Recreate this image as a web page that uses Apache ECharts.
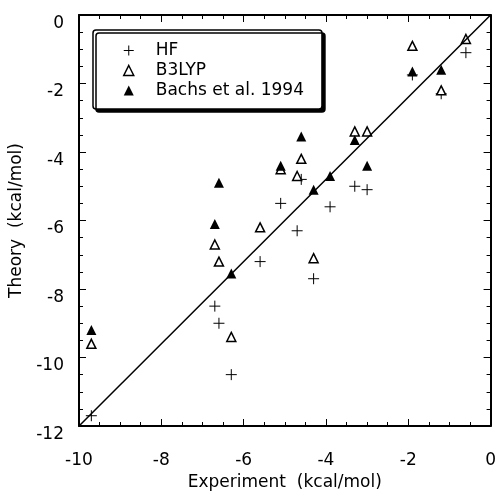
<!DOCTYPE html>
<html>
<head>
<meta charset="utf-8">
<script src="https://cdn.jsdelivr.net/npm/echarts@6/dist/echarts.min.js"></script>
<style>html,body{margin:0;padding:0;background:#fff}#c{width:499px;height:497px}</style>
</head>
<body>
<div id="c"></div>
<script>
// Experiment (x) vs theory (y), kcal/mol
const hfX = [-9.7, -6.7, -6.6, -6.3, -5.6, -5.1, -4.7, -4.6, -4.3, -3.9, -3.3, -3.0, -1.9, -1.2, -0.6];
const hfY = [-11.7, -8.5, -9.0, -10.5, -7.2, -5.5, -6.3, -4.8, -7.7, -5.6, -5.0, -5.1, -1.75, -2.3, -1.1];

const b3lypX = [-9.7, -6.7, -6.6, -6.3, -5.6, -5.1, -4.7, -4.6, -4.3, -3.3, -3.0, -1.9, -1.2, -0.6];
const b3lypY = [-9.6, -6.7, -7.2, -9.4, -6.2, -4.5, -4.7, -4.2, -7.1, -3.4, -3.4, -0.9, -2.2, -0.7];

const bachsX = [-9.7, -6.7, -6.6, -6.3, -5.1, -4.6, -4.3, -3.9, -3.3, -3.0, -1.9, -1.2];
const bachsY = [-9.2, -6.1, -4.9, -7.55, -4.4, -3.55, -5.1, -4.7, -3.65, -4.4, -1.65, -1.6];

const diagX = [-10, 0];
const diagY = [-12, 0];

const seriesNames = ['HF', 'B3LYP', 'Bachs et al. 1994'];
const xTitle = 'Experiment  (kcal/mol)';
const yTitle = 'Theory  (kcal/mol)';

const zip = (a, b) => a.map((v, i) => [v, b[i]]);
const FONT = 'DejaVu Sans';
const plusPath = 'path://M0,5L10,5M5,0L5,10';

function axisBase(extra) {
  return Object.assign({
    type: 'value',
    axisLine: { show: true, onZero: false, lineStyle: { color: '#000', width: 2 } },
    axisTick: { show: true, inside: true, length: 7, lineStyle: { color: '#000', width: 1 } },
    minorTick: { show: true, splitNumber: 4, length: 4, lineStyle: { color: '#000', width: 1 } },
    splitLine: { show: false },
    minorSplitLine: { show: false }
  }, extra);
}

const chart = echarts.init(document.getElementById('c'));
chart.setOption({
  animation: false,
  grid: { left: 79, right: 7, top: 15, bottom: 71 },
  xAxis: [
    axisBase({
      min: -10, max: 0, interval: 2, position: 'bottom',
      axisLabel: { color: '#000', fontFamily: FONT, fontSize: 17, margin: 26 },
      name: xTitle, nameLocation: 'middle', nameGap: 35,
      nameTextStyle: { color: '#000', fontFamily: FONT, fontSize: 17 }
    }),
    axisBase({
      min: -10, max: 0, interval: 2, position: 'top',
      axisLabel: { show: false }
    })
  ],
  yAxis: [
    axisBase({
      min: -12, max: 0, interval: 2, position: 'left',
      axisLabel: { color: '#000', fontFamily: FONT, fontSize: 17, margin: 15, verticalAlign: 'top' },
      name: yTitle, nameLocation: 'middle', nameGap: 53,
      nameTextStyle: { color: '#000', fontFamily: FONT, fontSize: 17 }
    }),
    axisBase({
      min: -12, max: 0, interval: 2, position: 'right',
      axisLabel: { show: false }
    })
  ],
  legend: {
    data: [
      { name: seriesNames[0], itemStyle: { borderWidth: 1 } },
      { name: seriesNames[1], itemStyle: { borderWidth: 1.5 } },
      { name: seriesNames[2] }
    ],
    orient: 'vertical',
    left: 93, top: 30,
    padding: [12, 18, 10, 30],
    itemWidth: 10, itemHeight: 10, itemGap: 3,
    backgroundColor: '#fff',
    borderColor: '#000', borderWidth: 1.5, borderRadius: 3,
    shadowColor: '#000', shadowBlur: 0, shadowOffsetX: 3, shadowOffsetY: 3,
    textStyle: { color: '#000', fontFamily: FONT, fontSize: 17, padding: [0, 0, 0, 17] }
  },
  series: [
    {
      name: seriesNames[0], type: 'scatter', data: zip(hfX, hfY),
      symbol: plusPath, symbolSize: 11,
      itemStyle: { color: 'rgba(0,0,0,0)', borderColor: '#000', borderWidth: 1, opacity: 1 }, z: 3,
      markLine: {
        silent: true, symbol: ['none', 'none'], animation: false,
        label: { show: false },
        lineStyle: { color: '#000', width: 1.5, type: 'solid' },
        emphasis: { disabled: true },
        data: [[{ coord: [diagX[0], diagY[0]] }, { coord: [diagX[1], diagY[1]] }]]
      }
    },
    {
      name: seriesNames[1], type: 'scatter', data: zip(b3lypX, b3lypY),
      symbol: 'triangle', symbolSize: 9,
      itemStyle: { color: '#fff', borderColor: '#000', borderWidth: 1.5, opacity: 1 }, z: 3
    },
    {
      name: seriesNames[2], type: 'scatter', data: zip(bachsX, bachsY),
      symbol: 'triangle', symbolSize: 10,
      itemStyle: { color: '#000', borderColor: '#000', borderWidth: 0, opacity: 1 }, z: 4
    }
  ]
});
</script>
</body>
</html>
